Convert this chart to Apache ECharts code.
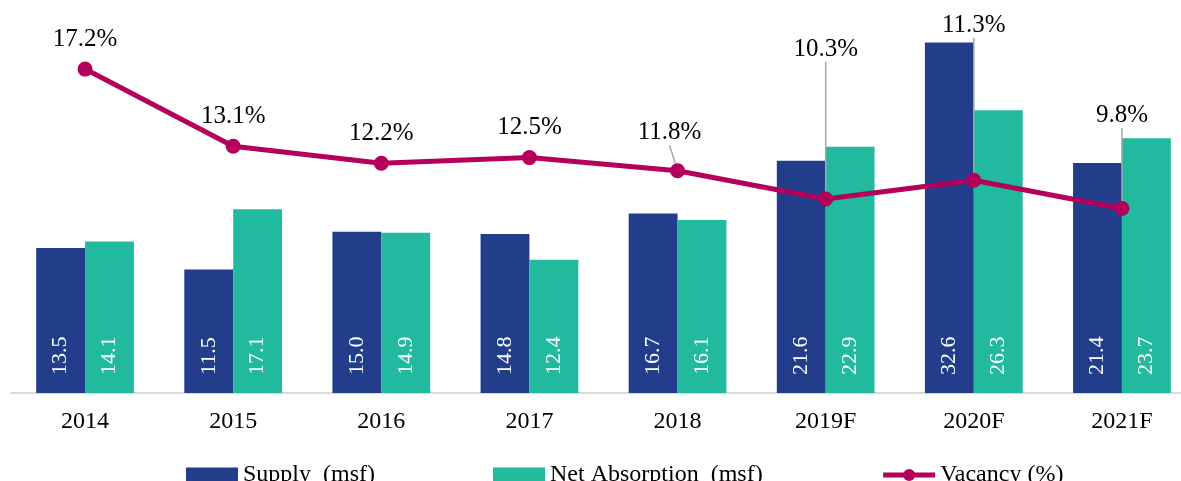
<!DOCTYPE html>
<html>
<head>
<meta charset="utf-8">
<script src="https://cdn.jsdelivr.net/npm/echarts@6/dist/echarts.min.js"></script>
<style>
  html, body { margin: 0; padding: 0; background: #fff; }
  #chart { width: 1181px; height: 481px; }
</style>
</head>
<body>
<div id="chart"></div>
<script>
var years = ['2014', '2015', '2016', '2017', '2018', '2019F', '2020F', '2021F'];
var supply = [13.5, 11.5, 15.0, 14.8, 16.7, 21.6, 32.6, 21.4];
var absorption = [14.1, 17.1, 14.9, 12.4, 16.1, 22.9, 26.3, 23.7];
var vacancy = [17.2, 13.1, 12.2, 12.5, 11.8, 10.3, 11.3, 9.8];

// labels that sit away from their point, with a grey leader line
var labelShift = {
    4: { dx: -8, dy: -8 },
    5: { dx: 0, dy: -120 },
    6: { dx: 0, dy: -125 },
    7: { dx: 0, dy: -63 }
};

var font = 'Liberation Serif, Times New Roman, serif';

var vacData = vacancy.map(function (v, i) {
    var item = { value: v };
    if (labelShift[i]) {
        item.labelLine = { show: true };
    }
    return item;
});

var barLabel = {
    show: true,
    position: 'insideBottom',
    rotate: 90,
    align: 'left',
    verticalAlign: 'middle',
    distance: 18,
    color: '#fff',
    fontFamily: font,
    fontSize: 22,
    formatter: function (p) { return p.value.toFixed(1); }
};

var myChart = echarts.init(document.getElementById('chart'));
var option = {
    animation: false,
    grid: { left: 11, top: 6, width: 1185, bottom: 88, outerBoundsMode: 'none', containLabel: false },
    legend: {
        left: 181,
        top: 458,
        itemGap: 118,
        itemWidth: 52,
        itemHeight: 15,
        textStyle: { fontFamily: font, fontSize: 24, color: '#000' },
        data: [
            { name: 'Supply  (msf)', icon: 'rect' },
            { name: 'Net Absorption  (msf)', icon: 'rect' },
            { name: 'Vacancy (%)', lineStyle: { width: 5 } }
        ]
    },
    xAxis: {
        type: 'category',
        data: years,
        axisLine: { lineStyle: { color: '#d9d9d9', width: 2 } },
        axisTick: { show: false },
        axisLabel: { fontFamily: font, fontSize: 24, color: '#000', margin: 17 }
    },
    yAxis: [
        { type: 'value', min: 0, max: 36, show: false, splitLine: { show: false } },
        { type: 'value', min: 0, max: 20.55, show: false, splitLine: { show: false } }
    ],
    series: [
        {
            name: 'Supply  (msf)',
            type: 'bar',
            data: supply,
            barGap: '0%',
            barCategoryGap: '34%',
            itemStyle: { color: '#223E8B' },
            label: barLabel
        },
        {
            name: 'Net Absorption  (msf)',
            type: 'bar',
            data: absorption,
            itemStyle: { color: '#22BA9E' },
            label: barLabel
        },
        {
            name: 'Vacancy (%)',
            type: 'line',
            yAxisIndex: 1,
            data: vacData,
            symbol: 'circle',
            symbolSize: 15,
            lineStyle: { color: '#B5005B', width: 5 },
            itemStyle: { color: '#B5005B' },
            label: {
                show: true,
                position: 'top',
                distance: 10,
                color: '#000',
                fontFamily: font,
                fontSize: 25,
                formatter: function (p) { return p.value.toFixed(1) + '%'; }
            },
            labelLine: { show: false, lineStyle: { color: '#a6a6a6', width: 1.5 } },
            labelLayout: function (params) {
                var s = labelShift[params.dataIndex];
                return s ? { dx: s.dx, dy: s.dy } : {};
            }
        }
    ]
};
myChart.setOption(option);
</script>
</body>
</html>
